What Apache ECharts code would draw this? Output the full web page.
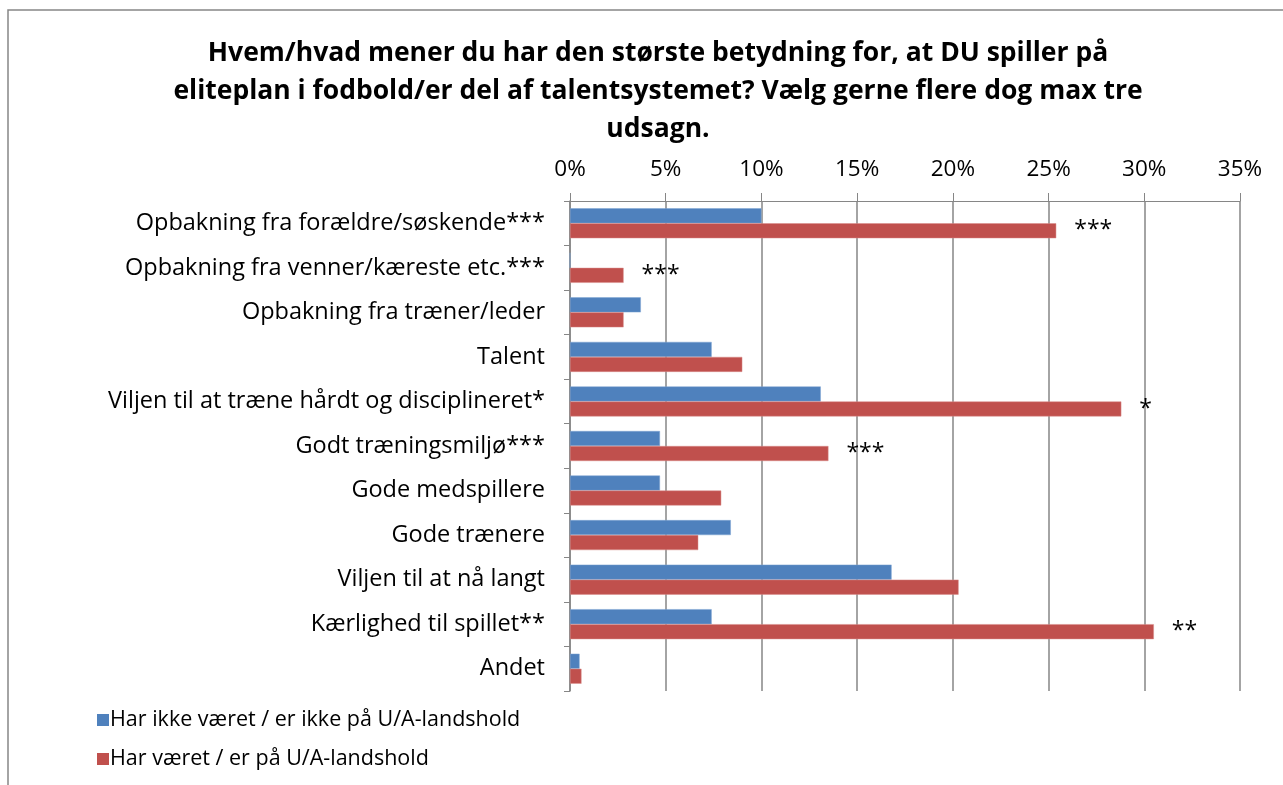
<!DOCTYPE html>
<html>
<head>
<meta charset="utf-8">
<script src="https://cdn.jsdelivr.net/npm/echarts@6/dist/echarts.min.js"></script>
<style>
  html, body { margin: 0; padding: 0; background: #fff; }
  #chart { width: 1283px; height: 785px; }
</style>
</head>
<body>
<div id="chart"></div>
<script>
// kategorier, oppefra og ned
var categories = [
    'Opbakning fra forældre/søskende***',
    'Opbakning fra venner/kæreste etc.***',
    'Opbakning fra træner/leder',
    'Talent',
    'Viljen til at træne hårdt og disciplineret*',
    'Godt træningsmiljø***',
    'Gode medspillere',
    'Gode trænere',
    'Viljen til at nå langt',
    'Kærlighed til spillet**',
    'Andet'
];
var seriesNames = ['Har ikke været / er ikke på U/A-landshold', 'Har været / er på U/A-landshold'];
// procent
var ikkeLandshold = [10.0, 0, 3.7, 7.4, 13.1, 4.7, 4.7, 8.4, 16.8, 7.4, 0.5];
var landshold = [25.4, 2.8, 2.8, 9.0, 28.8, 13.5, 7.9, 6.7, 20.3, 30.5, 0.6];
var stjerner = ['***', '***', '', '', '*', '***', '', '', '', '**', ''];
var xTicks = [0, 5, 10, 15, 20, 25, 30, 35];

var chart = echarts.init(document.getElementById('chart'));
var gray = '#868686';

var option = {
    animation: false,
    textStyle: { fontFamily: 'Open Sans' },
    title: {
        text: 'Hvem/hvad mener du har den største betydning for, at DU spiller på\neliteplan i fodbold/er del af talentsystemet? Vælg gerne flere dog max tre\nudsagn.',
        left: 653,
        textAlign: 'center',
        top: 29,
        textStyle: {
            fontFamily: 'Open Sans',
            fontWeight: 'bold',
            fontSize: 26.5,
            lineHeight: 38,
            color: '#000'
        }
    },
    legend: {
        orient: 'vertical',
        left: 92,
        top: 704,
        itemWidth: 12,
        itemHeight: 12,
        itemGap: 17,
        icon: 'rect',
        data: seriesNames,
        itemStyle: { borderWidth: 0 },
        textStyle: { fontSize: 21.5, color: '#000', padding: [0, 0, 0, -4] }
    },
    grid: { left: 570, right: 43, top: 201, bottom: 94, containLabel: false },
    xAxis: {
        type: 'value',
        position: 'top',
        min: 0,
        max: 35,
        interval: 5,
        axisLine: { show: true, lineStyle: { color: gray } },
        axisTick: { show: true, length: 8, lineStyle: { color: gray } },
        splitLine: { show: true, lineStyle: { color: gray, width: 1.5 } },
        axisLabel: {
            margin: 20,
            fontSize: 22.5,
            color: '#000',
            formatter: function (v) { return xTicks.indexOf(v) >= 0 ? v + '%' : ''; }
        }
    },
    yAxis: {
        type: 'category',
        inverse: true,
        data: categories,
        axisLine: { show: true, lineStyle: { color: gray, width: 1.5 } },
        axisTick: { show: true, length: 6, lineStyle: { color: gray } },
        axisLabel: { margin: 25, fontSize: 23.5, color: '#000' }
    },
    graphic: [
        {
            type: 'polyline',
            shape: { points: [[8, 785], [8, 10], [1283, 10]] },
            style: { stroke: gray, lineWidth: 1.5, fill: null }
        }
    ],
    series: [
        {
            name: seriesNames[0],
            type: 'bar',
            data: ikkeLandshold,
            barWidth: 15,
            barGap: '0%',
            itemStyle: { color: '#4F81BD', borderColor: '#7FA4D3', borderWidth: 0.5 }
        },
        {
            name: seriesNames[1],
            type: 'bar',
            data: landshold,
            barWidth: 15,
            barGap: '0%',
            itemStyle: { color: '#C0504D', borderColor: '#D98C8A', borderWidth: 0.5 },
            label: {
                show: true,
                position: 'right',
                distance: 18,
                fontSize: 23,
                color: '#000',
                formatter: function (p) { return stjerner[p.dataIndex]; }
            }
        }
    ]
};
chart.setOption(option);
</script>
</body>
</html>
